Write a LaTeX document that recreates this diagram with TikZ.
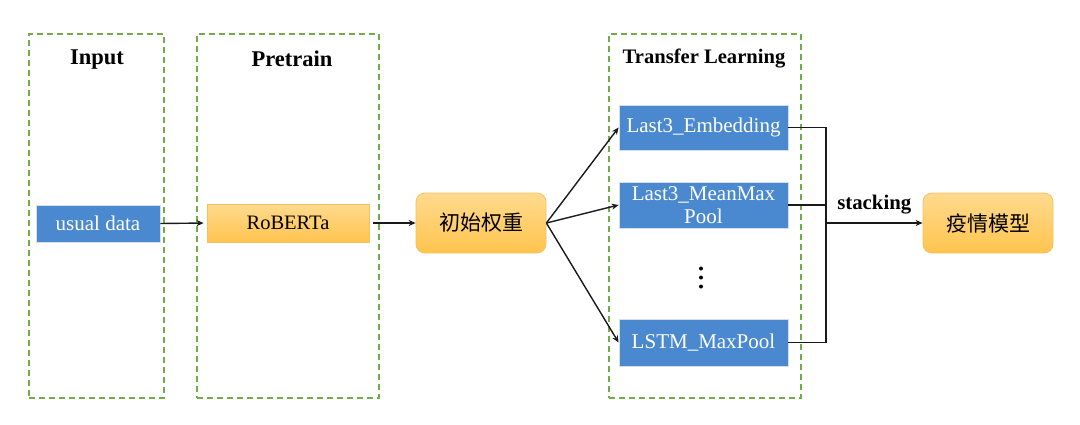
\documentclass[tikz,border=0pt]{standalone}
\usepackage{fontspec}
\setmainfont{Liberation Serif}
\newfontfamily\cjk{Noto Sans CJK SC}
\usetikzlibrary{arrows.meta}
\definecolor{bluebox}{HTML}{4A89D0}
\definecolor{bluerim}{HTML}{D6DEEA}
\definecolor{yeltop}{HTML}{FFDA8E}
\definecolor{yelbot}{HTML}{FFC44E}
\definecolor{yelrim}{HTML}{F2C262}
\definecolor{framegreen}{HTML}{70AD47}
\definecolor{lineblack}{HTML}{1A1A1A}
\begin{document}
\begin{tikzpicture}[x=1pt,y=-1pt,
  frame/.style={draw=framegreen, line width=1.4pt, dash pattern=on 6pt off 4pt, minimum width=#1, minimum height=364pt, inner sep=0pt},
  ttl/.style={font=\fontsize{22.5}{26}\selectfont\bfseries},
  bbox/.style={fill=bluebox, draw=bluerim, line width=0.8pt, text=white, font=\fontsize{21}{25}\selectfont, align=center, inner sep=0pt},
  ybox/.style={top color=yeltop, bottom color=yelbot, draw=yelrim, line width=0.8pt, font=\fontsize{20.5}{24}\selectfont, inner sep=0pt},
  rbox/.style={ybox, rounded corners=9pt, minimum width=130pt, minimum height=60pt, font=\fontsize{21}{25}\selectfont\cjk},
  conn/.style={draw=lineblack, line width=1.4pt},
  arr/.style={conn, -{Stealth[length=7pt,width=6pt]}}
]
\useasboundingbox (0,0) rectangle (1080,424);
\fill[white] (0,0) rectangle (1080,424);
% frames
\node[frame=135pt] (fin) at (96.5,216) {};
\node[frame=182pt] (fpre) at (288,216) {};
\node[frame=192pt] (ftr) at (705,216) {};
% titles
\node[ttl] (tin) at (97,60) {Input};
\node[ttl] (tpre) at (292,59) {Pretrain};
\node[ttl, font=\fontsize{20.6}{24}\selectfont\bfseries] (ttr) at (704,59) {Transfer Learning};
% nodes
\node[bbox, minimum width=124pt, minimum height=37pt] (ud) at (98,223.5) {usual data};
\node[ybox, minimum width=162pt, minimum height=38pt] (rob) at (288,223) {RoBERTa};
\node[rbox] (init) at (481,223) {初始权重};
\node[bbox, minimum width=169pt, minimum height=45pt] (emb) at (703.5,127.5) {Last3\_Embedding};
\node[bbox, minimum width=169pt, minimum height=46pt] (mm) at (703.5,205) {Last3\_MeanMax\\[-2pt]Pool};
\node[bbox, minimum width=169pt, minimum height=47pt] (lstm) at (703.5,342.5) {LSTM\_MaxPool};
\node[rbox] (model) at (988,223) {疫情模型};
% dots
\fill[black] (701,268.5) circle (2pt) (701,277.5) circle (2pt) (701,286.5) circle (2pt);
% connectors
\draw[arr, shorten >=3pt] (ud.east) -- (rob.west);
\draw[arr, shorten <=4pt] (rob.east) -- (init.west);
\draw[arr] (init.east) -- (emb.west);
\draw[arr] (init.east) -- (mm.west);
\draw[arr] (init.east) -- (lstm.west);
\coordinate (j) at (826,223);
\draw[conn] (emb.east) -| (j);
\draw[conn] (lstm.east) -| (j);
\draw[conn] (mm.east) -- (mm.east -| j);
\draw[arr] (j) -- node[above=5pt, font=\fontsize{20.8}{24}\selectfont\bfseries] (stk) {stacking} (model.west);
\end{tikzpicture}
\end{document}
